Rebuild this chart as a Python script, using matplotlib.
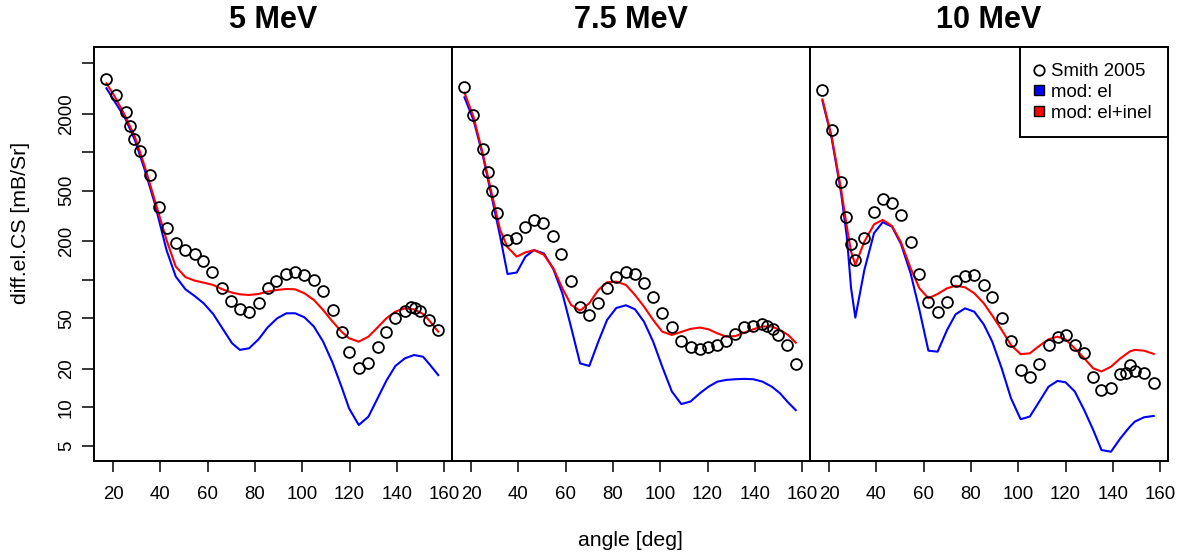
import matplotlib
matplotlib.use('Agg')
import matplotlib.pyplot as plt
from matplotlib.lines import Line2D

plt.rcParams['font.family'] = ['Liberation Sans', 'DejaVu Sans']

titles = ['5 MeV', '7.5 MeV', '10 MeV']

# measured cross sections (Smith 2005)
ang5_exp = [17.2, 21.1, 25.4, 27.0, 29.0, 31.3, 35.4, 39.5, 42.8, 46.5, 50.6, 54.5, 58.1, 61.9, 66.0, 69.9,
            73.6, 77.5, 81.5, 85.4, 89.1, 93.0, 97.0, 100.9, 104.9, 108.8, 112.8, 116.9, 119.8, 123.9, 128.0,
            131.9, 135.6, 139.4, 143.4, 145.8, 147.7, 149.7, 153.5, 157.5]
cs5_exp = [3736, 2817, 2071, 1609, 1265, 1018, 664, 375, 256, 195, 171, 160, 140, 115, 85.7, 68.7,
           58.7, 56.3, 65.5, 85.7, 98.4, 111, 115, 109, 99.7, 82.2, 57.9, 39.0, 27.0, 20.2, 22.1,
           29.6, 39.2, 49.9, 57.3, 61.5, 59.7, 57.3, 48.4, 40.4]

ang75_exp = [17.2, 21.0, 24.9, 27.0, 29.0, 31.1, 35.1, 39.2, 42.7, 46.6, 50.6, 54.5, 58.2, 62.1, 66.1, 70.0,
             73.5, 77.5, 81.4, 85.5, 89.3, 93.0, 97.0, 100.8, 104.9, 108.9, 112.8, 117.0, 120.0, 123.9, 127.9,
             131.7, 135.4, 139.3, 143.2, 145.2, 147.5, 149.6, 153.4, 157.3]
cs75_exp = [3253, 1963, 1056, 705, 497, 333, 205, 214, 260, 295, 281, 222, 160, 98.5, 60.8, 53.0,
            65.5, 85.8, 106, 115, 111, 95.1, 73.8, 55.3, 42.4, 33.3, 29.9, 28.7, 29.6, 30.9, 33.3,
            37.4, 42.4, 43.7, 44.8, 43.5, 40.9, 36.9, 30.9, 21.9]

ang10_exp = [17.2, 21.1, 25.1, 27.2, 29.3, 31.1, 34.9, 39.0, 42.7, 46.6, 50.4, 54.5, 58.2, 62.0, 65.9, 69.9,
             73.5, 77.5, 81.4, 85.4, 89.0, 93.0, 96.9, 101.0, 104.9, 108.9, 112.8, 116.6, 120.0, 123.9, 127.9,
             131.7, 135.2, 139.2, 143.2, 145.4, 147.3, 149.3, 153.2, 157.3]
cs10_exp = [3083, 1496, 589, 313, 191, 143, 211, 343, 431, 403, 322, 199, 112, 66.7, 55.6, 66.7,
            98.5, 107, 109, 91.1, 72.9, 50.5, 33.1, 19.6, 17.4, 21.9, 30.6, 35.8, 36.9, 30.8, 26.5,
            17.4, 13.7, 14.1, 18.2, 18.7, 21.5, 19.4, 18.7, 15.4]

# model: elastic only / elastic + inelastic
ang5_mod = [17.2, 20.7, 24.9, 29.2, 33.4, 37.6, 42.6, 46.5, 50.6, 54.5, 58.3, 62.3, 66.2, 70.3, 73.6, 77.5,
            81.5, 85.4, 89.4, 93.3, 97.0, 100.9, 104.9, 108.8, 112.8, 116.6, 119.8, 123.9, 128.0, 131.9,
            135.6, 139.4, 143.4, 147.3, 151.1, 153.5, 157.5]
el5 = [3176, 2495, 1882, 1250, 726, 398, 171, 106, 84.2, 74.6, 65.4, 54.0, 41.7, 31.8, 28.2, 29.0,
       34.1, 42.4, 49.9, 54.6, 54.6, 50.8, 43.0, 32.8, 22.4, 14.5, 9.8, 7.26, 8.45, 11.8,
       16.2, 21.1, 24.2, 25.7, 24.9, 22.1, 17.9]
inel5 = [3475, 2735, 1963, 1327, 773, 423, 205, 127, 105, 98.5, 95.0, 91.1, 84.2, 79.3, 76.9, 76.0,
         77.4, 80.8, 83.2, 84.7, 84.2, 78.4, 69.5, 58.0, 47.0, 39.2, 34.8, 32.7, 35.8, 42.4,
         49.9, 56.3, 59.7, 58.6, 53.9, 48.4, 39.2]

ang75_mod = [17.2, 21.0, 24.9, 28.7, 32.3, 35.4, 39.3, 43.0, 46.6, 50.8, 54.8, 58.6, 62.3, 66.1, 70.0, 73.8,
             77.5, 81.4, 85.5, 89.3, 93.1, 97.0, 100.8, 104.9, 108.9, 112.8, 116.8, 120.4, 124.2, 128.0,
             131.8, 135.6, 139.3, 143.2, 147.2, 150.6, 154.1, 157.3]
el75 = [2698, 1795, 953, 449, 218, 111, 114, 152, 171, 161, 121, 78.4, 42.4, 22.1, 21.1, 32.7,
        48.4, 60.1, 63.1, 58.7, 47.0, 32.7, 20.9, 13.3, 10.6, 11.1, 12.9, 14.5, 15.9, 16.4,
        16.6, 16.7, 16.6, 15.9, 14.5, 12.9, 10.9, 9.5]
inel75 = [2937, 1905, 982, 477, 246, 180, 152, 164, 171, 157, 123, 85.8, 63.5, 57.3, 65.5, 83.2,
          95.5, 96.8, 91.1, 76.0, 61.7, 48.4, 39.2, 36.9, 39.0, 41.2, 42.2, 40.9, 38.0, 35.8,
          36.2, 38.5, 40.9, 43.0, 43.0, 40.4, 36.9, 32.1]

ang10_mod = [17.2, 21.1, 25.1, 27.5, 29.3, 31.1, 34.9, 39.0, 42.7, 46.6, 50.4, 54.5, 58.2, 62.0, 65.9, 69.9,
             73.5, 77.5, 81.4, 85.4, 89.0, 93.0, 96.9, 101.0, 104.9, 108.9, 112.8, 116.6, 120.0, 123.9,
             127.9, 131.7, 135.2, 139.2, 143.2, 147.2, 149.3, 153.2, 157.3]
el10 = [2530, 1288, 477, 218, 85.8, 50.5, 119, 232, 283, 261, 191, 112, 58.0, 27.8, 27.3, 40.4,
        53.6, 59.7, 56.2, 44.7, 32.7, 20.2, 11.8, 8.06, 8.46, 11.1, 14.5, 16.1, 15.7, 13.3,
        9.5, 6.64, 4.62, 4.48, 5.71, 7.04, 7.72, 8.35, 8.55]
inel10 = [2600, 1320, 507, 261, 166, 131, 199, 272, 295, 264, 197, 123, 85.8, 71.6, 77.4, 85.8,
          89.9, 87.3, 78.4, 65.5, 52.4, 40.4, 30.8, 26.1, 26.5, 30.3, 34.1, 35.8, 34.1, 29.0,
          24.2, 20.2, 19.1, 20.8, 24.2, 27.4, 28.2, 27.8, 26.2]

x_ticks = [20, 40, 60, 80, 100, 120, 140, 160]
y_ticks = [5, 10, 20, 50, 100, 200, 500, 1000, 2000, 5000]
y_labels = ['5', '10', '20', '50', '', '200', '500', '', '2000', '']

exp_sets = [(ang5_exp, cs5_exp), (ang75_exp, cs75_exp), (ang10_exp, cs10_exp)]
mod_sets = [(ang5_mod, el5, inel5), (ang75_mod, el75, inel75), (ang10_mod, el10, inel10)]

W, H = 1184, 556
fig = plt.figure(figsize=(W / 100, H / 100), dpi=100)

left = 93.7
pw = 358.0
top = 47.3
bottom = 461.0

axes = []
for i in range(3):
    ax = fig.add_axes([(left + i * pw) / W, 1 - bottom / H, pw / W, (bottom - top) / H])
    axes.append(ax)

    a_exp, c_exp = exp_sets[i]
    a_mod, el, inel = mod_sets[i]

    ax.plot(a_mod, el, color='#0000ff', lw=1.5, zorder=2)
    ax.plot(a_mod, inel, color='#ff0000', lw=1.5, zorder=3)
    ax.plot(a_exp, c_exp, ls='none', marker='o', ms=7.8, mfc='none', mec='black', mew=1.3, zorder=4)

    ax.set_yscale('log')
    ax.set_xlim(11.8, 163.2)
    ax.set_ylim(3.79, 6660)
    ax.minorticks_off()

    ax.set_xticks(x_ticks)
    ax.set_xticklabels([str(t) for t in x_ticks])
    ax.tick_params(axis='x', length=7.7, width=1.1, pad=10, labelsize=13.4)

    if i == 0:
        ax.set_yticks(y_ticks)
        ax.set_yticklabels(y_labels)
        ax.tick_params(axis='y', length=8.4, width=1.1, pad=5, labelsize=13.4, labelrotation=90)
        for lab in ax.get_yticklabels():
            lab.set_va('center')
    else:
        ax.set_yticks([])

    for s in ax.spines.values():
        s.set_linewidth(1.4)

    fig.text((left + (i + 0.5) * pw) / W, 1 - 28.3 / H, titles[i], ha='center', va='baseline',
             fontsize=22, fontweight='bold')

handles = [
    Line2D([], [], ls='none', marker='o', ms=7.5, mfc='none', mec='black', mew=1.3),
    Line2D([], [], ls='none', marker='s', ms=7.2, mfc='#0000ff', mec='black', mew=1.0),
    Line2D([], [], ls='none', marker='s', ms=7.2, mfc='#ff0000', mec='black', mew=1.0),
]
leg = axes[2].legend(handles, ['Smith 2005', 'mod: el', 'mod: el+inel'], loc='upper right',
                     borderaxespad=0, fancybox=False, framealpha=1, edgecolor='black',
                     fontsize=13.4, handlelength=0.4, handletextpad=0.45, labelspacing=0.2,
                     borderpad=0.85)
leg.get_frame().set_linewidth(1.4)

fig.text(21 / W, 1 - 223 / H, 'diff.el.CS [mB/Sr]', rotation=90, ha='center', va='center', fontsize=15.3)
fig.text((left + 1.5 * pw) / W, 1 - 541 / H, 'angle [deg]', ha='center', va='center', fontsize=15.3)

fig.savefig('out.png', dpi=100)
